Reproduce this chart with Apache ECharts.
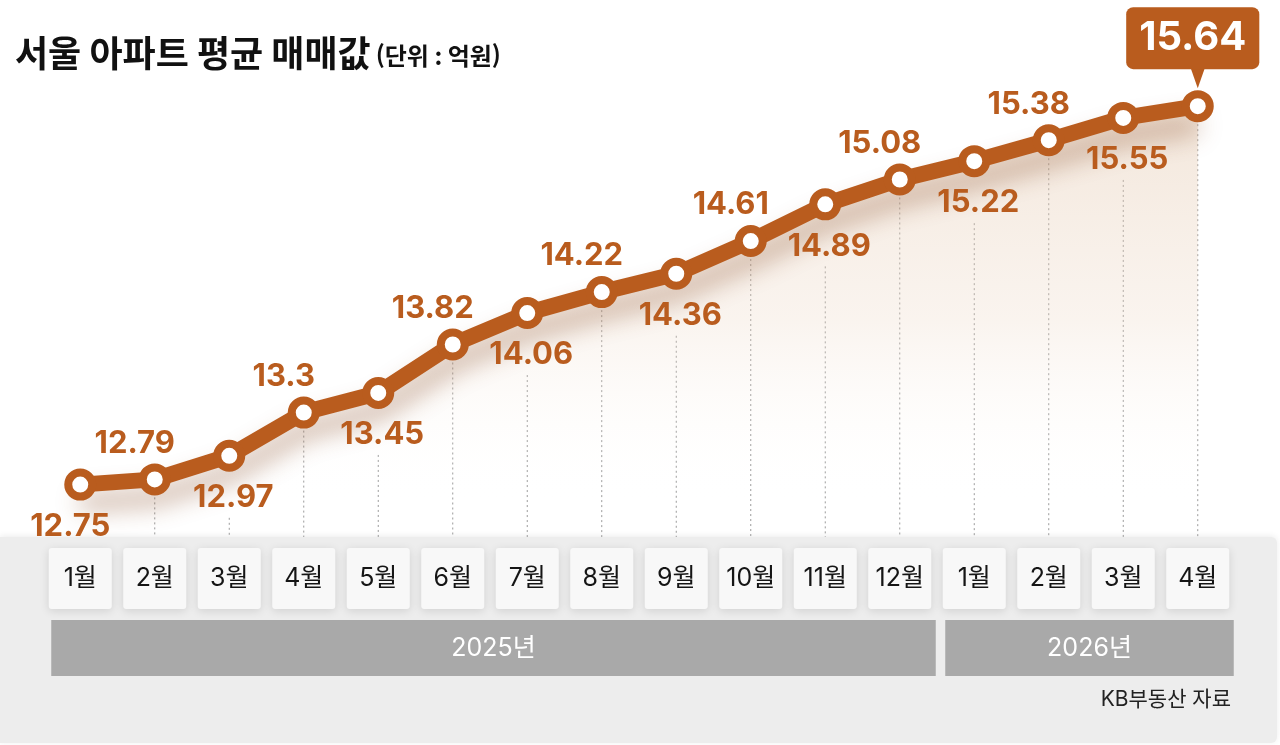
<!DOCTYPE html>
<html lang="ko">
<head>
<meta charset="UTF-8">
<title>서울 아파트 평균 매매값</title>
<style>
    html,body{margin:0;padding:0;background:#fff;}
    #chart{width:1280px;height:745px;}
</style>
</head>
<body>
<div id="chart"></div>
<script src="https://cdn.jsdelivr.net/npm/echarts@6/dist/echarts.min.js"></script>
<script>
    // 데이터
    var months = ['1월','2월','3월','4월','5월','6월','7월','8월','9월','10월','11월','12월','1월','2월','3월','4월']
    var prices = [12.75,12.79,12.97,13.3,13.45,13.82,14.06,14.22,14.36,14.61,14.89,15.08,15.22,15.38,15.55,15.64]
    var years = ['2025년','2026년']
    var yearFirst = [0,12]   // 연도별 첫 달 인덱스
    var yearLast = [11,15]   // 연도별 마지막 달 인덱스
    var titleMain = '서울 아파트 평균 매매값'
    var titleUnit = '(단위 : 억원)'
    var sourceText = 'KB부동산 자료'

    var brown = '#b95c1e'
    var numFont = "Inter, 'Noto Sans CJK KR', sans-serif"
    var krFont = "Inter, 'Noto Sans CJK KR', sans-serif"
    var last = prices.length - 1

    // 홀수 인덱스는 라벨 위, 짝수는 아래
    function labelAbove(i){ return i % 2 == 1 }

    var lineData = prices.map(function(v, i){
        var up = labelAbove(i)
        return {
            value: v,
            label: {
                show: i != last,
                position: up ? 'top' : 'bottom',
                offset: up ? [-20, 7] : [i == 0 ? -10 : 4, -1]
            }
        }
    })

    var myChart = echarts.init(document.getElementById('chart'))

    var option = {
        animation: false,
        backgroundColor: '#fff',
        title: {
            left: 10,
            top: 24,
            text: '{a|' + titleMain + '} {b|' + titleUnit + '}',
            textStyle: {
                rich: {
                    a: {fontFamily: "'Noto Sans CJK KR'", fontSize: 36, fontWeight: 'bold', color: '#111', lineHeight: 48},
                    b: {fontFamily: "'Noto Sans CJK KR'", fontSize: 24, fontWeight: 'bold', color: '#111', lineHeight: 48, padding: [5, 0, 0, 0]}
                }
            }
        },
        grid: {left: 43, right: 45, top: 59, bottom: 208},
        xAxis: {
            type: 'category',
            boundaryGap: true,
            data: months,
            axisLine: {show: false},
            axisTick: {show: false},
            splitLine: {show: false},
            axisLabel: {
                interval: 0,
                margin: 11,
                fontFamily: krFont,
                fontSize: 25,
                color: '#151515',
                width: 63,
                height: 61,
                lineHeight: 61,
                align: 'center',
                backgroundColor: '#f8f8f8',
                borderRadius: 3,
                shadowBlur: 10,
                shadowColor: 'rgba(0,0,0,0.12)',
                shadowOffsetY: 2
            },
            z: 3
        },
        yAxis: {
            type: 'value',
            min: 12.35,
            max: 16,
            show: false,
            splitLine: {show: false}
        },
        series: [
            {
                // 점선 가이드
                type: 'custom',
                silent: true,
                z: 1,
                data: prices.map(function(v, i){ return [i, v] }),
                renderItem: function(params, api){
                    var i = api.value(0)
                    var p = api.coord([i, api.value(1)])
                    var bottom = params.coordSys.y + params.coordSys.height
                    var y0 = p[1] + (labelAbove(i) || i == last ? 18 : 62)
                    if (y0 >= bottom) return null
                    return {
                        type: 'line',
                        shape: {x1: p[0], y1: y0, x2: p[0], y2: bottom},
                        style: {stroke: '#9a9a9a', lineWidth: 1, lineDash: [2, 3]}
                    }
                }
            },
            {
                type: 'line',
                data: lineData,
                z: 5,
                symbol: 'circle',
                symbolSize: 24,
                lineStyle: {
                    color: brown,
                    width: 16,
                    shadowColor: 'rgba(130,70,30,0.42)',
                    shadowBlur: 24,
                    shadowOffsetY: 18
                },
                itemStyle: {
                    color: '#fff',
                    borderColor: brown,
                    borderWidth: 8
                },
                areaStyle: {
                    color: {
                        type: 'linear', x: 0, y: 0, x2: 0, y2: 1,
                        colorStops: [
                            {offset: 0, color: 'rgba(226,196,168,0.6)'},
                            {offset: 0.5, color: 'rgba(236,214,194,0.38)'},
                            {offset: 0.92, color: 'rgba(255,255,255,0)'}
                        ]
                    }
                },
                label: {
                    show: true,
                    distance: 10,
                    fontFamily: numFont,
                    fontSize: 31,
                    fontWeight: 'bold',
                    lineHeight: 34,
                    color: brown
                },
                emphasis: {disabled: true},
                markPoint: {
                    silent: true,
                    symbol: 'path://M0,0 L14,0 L7,20 Z',
                    symbolSize: [14, 20],
                    symbolOffset: [0, -28],
                    itemStyle: {color: brown},
                    label: {
                        show: true,
                        position: 'top',
                        distance: -1,
                        offset: [-5, 0],
                        formatter: function(p){ return p.value },
                        fontFamily: numFont,
                        fontSize: 40,
                        fontWeight: 'bold',
                        lineHeight: 44,
                        color: '#fff',
                        backgroundColor: brown,
                        borderRadius: 7,
                        padding: [9, 13, 9, 13]
                    },
                    data: [{coord: [last, prices[last]], value: prices[last]}]
                }
            }
        ],
        graphic: {
            elements: [
                {
                    type: 'rect',
                    z: -10,
                    silent: true,
                    shape: {x: 0, y: 537, width: 1277, height: 206, r: [0, 6, 6, 0]},
                    style: {fill: '#ededed', shadowBlur: 6, shadowColor: 'rgba(0,0,0,0.08)', shadowOffsetY: -1}
                },
                {
                    type: 'text',
                    right: 49,
                    top: 689,
                    style: {text: sourceText, fontFamily: krFont, fontSize: 21, fill: '#222'}
                }
            ]
        }
    }
    myChart.setOption(option)

    // 연도 막대: 카테고리 위치에서 계산
    var yearBars = []
    years.forEach(function(name, k){
        var x0 = myChart.convertToPixel({xAxisIndex: 0}, yearFirst[k]) - 29
        var x1 = myChart.convertToPixel({xAxisIndex: 0}, yearLast[k]) + 36
        yearBars.push({
            type: 'rect',
            silent: true,
            shape: {x: x0, y: 620, width: x1 - x0, height: 56},
            style: {fill: '#a9a9a9'}
        })
        yearBars.push({
            type: 'text',
            silent: true,
            x: (x0 + x1) / 2,
            y: 648,
            style: {text: name, fontFamily: krFont, fontSize: 25, fill: '#fff', align: 'center', verticalAlign: 'middle'}
        })
    })
    var g = option.graphic.elements.concat(yearBars)
    myChart.setOption({graphic: {elements: g}})
</script>
</body>
</html>
